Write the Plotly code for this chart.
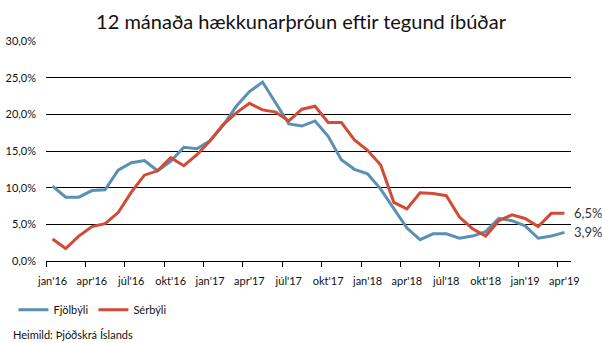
import plotly.graph_objects as go

# Monthly labels, jan'16 .. apr'19
month_names = ["jan", "feb", "mar", "apr", "maí", "jún", "júl", "ágú", "sep", "okt", "nóv", "des"]
months = [f"{month_names[m]}'{y % 100}" for y in range(2016, 2020) for m in range(12)][:40]

# 12-month price change (%) by dwelling type
fjolbyli = [10.2, 8.7, 8.7, 9.6, 9.7, 12.4, 13.4, 13.7, 12.3, 13.6,
            15.5, 15.3, 16.4, 18.5, 21.1, 23.1, 24.4, 21.5, 18.7, 18.4,
            19.1, 17.0, 13.8, 12.5, 11.9, 9.8, 7.2, 4.5, 2.9, 3.7,
            3.7, 3.1, 3.4, 4.0, 5.8, 5.5, 4.8, 3.1, 3.4, 3.9]
serbyli = [3.0, 1.7, 3.4, 4.7, 5.1, 6.6, 9.4, 11.7, 12.3, 14.1,
           13.0, 14.5, 16.4, 18.6, 20.2, 21.5, 20.6, 20.3, 19.1, 20.7,
           21.1, 18.9, 18.9, 16.5, 15.1, 13.1, 8.0, 7.1, 9.3, 9.2,
           8.9, 6.0, 4.4, 3.4, 5.5, 6.3, 5.8, 4.7, 6.5, 6.5]

series = [("Fjölbýli", fjolbyli, "#5A90B2"), ("Sérbýli", serbyli, "#D14B36")]

x = list(range(len(months)))
tick_idx = list(range(0, len(months), 3))

fig = go.Figure()
for name, vals, color in series:
    fig.add_trace(go.Scatter(x=x, y=vals, name=name, mode="lines",
                             line=dict(color=color, width=3)))

# value labels at the last month
for name, vals, color in series:
    fig.add_annotation(x=x[-1], y=vals[-1], text=f"{vals[-1]:.1f}%".replace(".", ","),
                       xanchor="left", yanchor="middle", xshift=8, showarrow=False,
                       font=dict(size=13, color="#333333", family="Lato"))

fig.add_annotation(text="Heimild: Þjóðskrá Íslands", xref="paper", yref="paper",
                   x=-0.0666, y=-0.336, xanchor="left", yanchor="middle", showarrow=False,
                   font=dict(size=11, color="#111111"))

fig.update_layout(
    width=602, height=343,
    margin=dict(l=46, r=31, t=41, b=82, autoexpand=False),
    paper_bgcolor="white", plot_bgcolor="white",
    separators=", ",
    font=dict(family="Lato", size=11, color="#111111"),
    title=dict(text="12 mánaða hækkunarþróun eftir tegund íbúðar",
               x=0.5, xanchor="center", y=1 - 22 / 343, yanchor="middle",
               font=dict(size=20, color="#111111", family="Lato")),
    showlegend=True,
    legend=dict(orientation="h", x=-0.062, y=-0.222, xanchor="left", yanchor="middle",
                font=dict(size=11), itemwidth=30, traceorder="normal"),
    xaxis=dict(range=[-0.5, len(months) - 0.5], tickvals=[x[i] for i in tick_idx],
               ticktext=[months[i] for i in tick_idx], ticks="", showgrid=False,
               showline=True, linecolor="black", linewidth=1, zeroline=False,
               ticklabelstandoff=10, automargin=False,
               minor=dict(tick0=-0.5, dtick=3, ticks="outside", ticklen=5,
                          tickcolor="black", showgrid=False),
               tickfont=dict(size=11)),
    yaxis=dict(range=[0, 30], dtick=5, tickformat=".1f", ticksuffix="%",
               showgrid=True, gridcolor="black", gridwidth=1, zeroline=False,
               showline=False, ticks="", ticklabelstandoff=9, automargin=False,
               tickfont=dict(size=11)),
)

fig.write_html("out.html")
